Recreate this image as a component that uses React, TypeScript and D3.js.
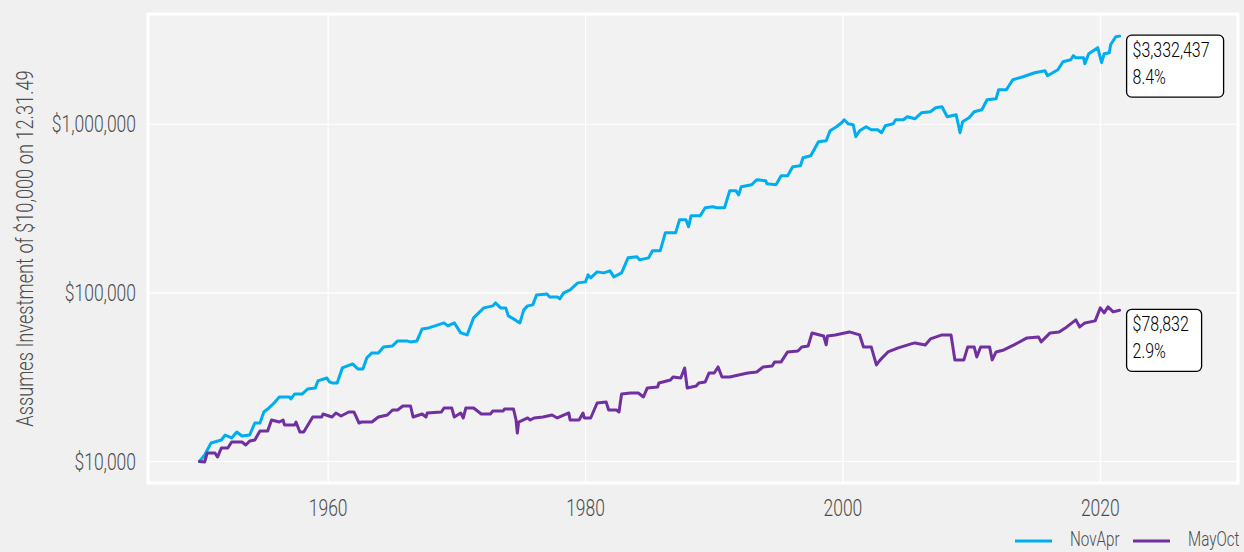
import React from 'react';
import * as d3 from 'd3';

// [year, value of $10,000 invested 12.31.49]
const novApr: [number, number][] = [
  [1950.0, 10000], [1950.4, 10930], [1950.9, 12880], [1951.7, 13420], [1952.0, 14360], [1952.5, 13790],
  [1952.9, 14970], [1953.3, 14170], [1953.9, 14360], [1954.3, 16920], [1954.7, 16920], [1955.0, 19670],
  [1955.4, 20780], [1955.8, 22240], [1956.2, 24150], [1957.0, 24150], [1957.1, 23490], [1957.4, 25160],
  [1958.0, 25160], [1958.4, 26930], [1959.0, 27310], [1959.2, 30050], [1959.9, 31300], [1960.1, 29640],
  [1960.3, 29240], [1960.7, 29240], [1961.1, 35890], [1961.5, 36880], [1961.9, 37910], [1962.3, 35400],
  [1962.7, 35400], [1963.0, 41140], [1963.4, 44060], [1963.9, 44060], [1964.3, 47820], [1965.0, 48480],
  [1965.4, 51910], [1966.1, 51910], [1966.4, 51200], [1966.9, 51910], [1967.3, 61130], [1967.8, 61970],
  [1968.3, 63710], [1969.0, 66370], [1969.3, 63710], [1969.8, 66370], [1970.3, 57880], [1970.8, 56330],
  [1971.3, 71110], [1972.1, 81470], [1972.8, 83730], [1973.0, 87230], [1973.4, 81470], [1973.8, 81470],
  [1974.0, 73080], [1974.4, 70140], [1974.9, 66370], [1975.2, 79270], [1975.5, 83730], [1975.9, 84880],
  [1976.2, 97320], [1977.0, 98650], [1977.2, 94690], [1977.8, 94690], [1978.0, 92130], [1978.3, 100000],
  [1978.8, 104180], [1979.4, 114660], [1980.0, 116230], [1980.2, 127900], [1980.4, 122770], [1980.9, 133250],
  [1981.4, 131460], [1981.9, 135110], [1982.2, 124450], [1982.8, 131460], [1983.3, 161360], [1984.0, 163580],
  [1984.2, 157020], [1984.9, 161360], [1985.2, 177580], [1985.8, 177580], [1986.2, 227100], [1987.0, 227100],
  [1987.3, 271300], [1987.8, 271300], [1988.0, 246500], [1988.2, 286400], [1988.9, 286400], [1989.3, 319600],
  [1989.9, 323900], [1990.2, 319600], [1990.8, 319600], [1991.2, 403000], [1991.7, 403000], [1991.9, 381600],
  [1992.1, 425800], [1992.9, 437500], [1993.3, 468500], [1994.0, 462100], [1994.1, 443600], [1994.8, 437500],
  [1995.2, 494800], [1995.7, 494800], [1996.1, 559800], [1996.7, 567400], [1996.9, 632900], [1997.5, 650500],
  [1998.1, 787600], [1998.7, 798500], [1999.0, 915200], [1999.5, 966700], [1999.9, 1021000], [2000.1, 1064000],
  [2000.4, 1007000], [2000.8, 993400], [2001.0, 843300], [2001.3, 915200], [2001.8, 966700], [2002.2, 927900],
  [2002.7, 927900], [2003.0, 890600], [2003.3, 980000], [2003.9, 1007000], [2004.1, 1064000], [2004.7, 1064000],
  [2005.0, 1108000], [2005.6, 1078500], [2006.1, 1170000], [2006.8, 1187000], [2007.2, 1253000], [2007.7, 1270000],
  [2008.1, 1108000], [2008.8, 1139000], [2009.1, 890600], [2009.3, 1035000], [2009.8, 1093000], [2010.2, 1187000],
  [2010.8, 1219000], [2011.2, 1398000], [2011.9, 1417000], [2012.1, 1602000], [2012.7, 1602000], [2013.2, 1838000],
  [2014.0, 1914000], [2014.9, 2022000], [2015.7, 2078000], [2015.9, 1941000], [2016.7, 2107000], [2017.1, 2350000],
  [2017.7, 2415000], [2017.9, 2551000], [2018.1, 2482000], [2018.7, 2482000], [2018.8, 2287000], [2019.1, 2621000],
  [2019.8, 2846000], [2020.1, 2318000], [2020.3, 2621000], [2020.7, 2657000], [2020.8, 2964000], [2021.2, 3307000],
  [2021.5, 3332437],
];

const mayOct: [number, number][] = [
  [1950.0, 10000], [1950.4, 9930], [1950.6, 11230], [1951.2, 11230], [1951.4, 10630], [1951.7, 12030],
  [1952.2, 12030], [1952.5, 13050], [1953.3, 13050], [1953.6, 12530], [1953.9, 13230], [1954.3, 13420],
  [1954.7, 15170], [1955.3, 15170], [1955.6, 17630], [1956.2, 17150], [1956.5, 17630], [1956.6, 16470],
  [1957.4, 16470], [1957.5, 17150], [1957.8, 14970], [1958.1, 14970], [1958.8, 18370], [1959.5, 18370],
  [1959.6, 19140], [1960.3, 18370], [1960.6, 19400], [1961.0, 18620], [1961.6, 19670], [1962.0, 19670],
  [1962.4, 16920], [1962.6, 17150], [1963.4, 17150], [1963.9, 18370], [1964.6, 18880], [1965.0, 20210],
  [1965.4, 20210], [1965.8, 21350], [1966.4, 21350], [1966.6, 18370], [1967.3, 19140], [1967.6, 18370],
  [1967.7, 19400], [1968.8, 19670], [1969.0, 20780], [1969.6, 20780], [1969.8, 18370], [1970.3, 19400],
  [1970.5, 18120], [1970.7, 20780], [1971.3, 20780], [1971.9, 19140], [1972.6, 19140], [1972.8, 19940],
  [1973.6, 19940], [1973.7, 20490], [1974.4, 20490], [1974.6, 17630], [1974.7, 14760], [1974.8, 17150],
  [1975.5, 18120], [1975.7, 17630], [1976.0, 18120], [1976.7, 18370], [1977.4, 18880], [1977.8, 18120],
  [1978.7, 19400], [1978.8, 17630], [1979.5, 17630], [1979.8, 19400], [1979.9, 18120], [1980.4, 18120],
  [1980.9, 22240], [1981.6, 22550], [1981.8, 20210], [1982.4, 20210], [1982.6, 19670], [1982.8, 25160],
  [1983.5, 25500], [1984.1, 25500], [1984.5, 24150], [1984.8, 27310], [1985.6, 27680], [1985.7, 29240],
  [1986.6, 30460], [1986.8, 31730], [1987.4, 31300], [1987.7, 35890], [1987.9, 27310], [1988.6, 28060],
  [1988.8, 29240], [1989.3, 29640], [1989.6, 33510], [1990.0, 33510], [1990.3, 36380], [1990.6, 31730],
  [1991.2, 31730], [1992.6, 33510], [1993.3, 33970], [1993.8, 36380], [1994.5, 36880], [1994.7, 38960],
  [1995.2, 38960], [1995.7, 44660], [1996.5, 45270], [1996.8, 47820], [1997.3, 48480], [1997.6, 57880],
  [1998.5, 55560], [1998.7, 49150], [1998.8, 55560], [1999.4, 56330], [2000.5, 58680], [2001.3, 56330],
  [2001.6, 47820], [2002.2, 47820], [2002.6, 37390], [2002.9, 40050], [2003.5, 44660], [2004.3, 47170],
  [2005.3, 49830], [2005.6, 50510], [2006.4, 49150], [2006.8, 53330], [2007.7, 56330], [2008.4, 56330],
  [2008.7, 40050], [2009.4, 40050], [2009.7, 47820], [2010.2, 47820], [2010.4, 41710], [2010.7, 47820],
  [2011.4, 47820], [2011.6, 40050], [2011.9, 44660], [2012.5, 45890], [2013.3, 49150], [2014.3, 54080],
  [2015.2, 54820], [2015.4, 51200], [2016.1, 57880], [2016.8, 58680], [2017.4, 62830], [2018.1, 69170],
  [2018.4, 62830], [2018.8, 66370], [2019.6, 68230], [2020.0, 81470], [2020.3, 76090], [2020.6, 82590],
  [2021.0, 77140], [2021.5, 78832],
];

const seriesNames = ['NovApr', 'MayOct'];
const seriesColors = ['#00aeef', '#7030a0'];
const endLabels = [['$3,332,437', '8.4%'], ['$78,832', '2.9%']];
const yTicks = [10000, 100000, 1000000];
const xTicks = [1960, 1980, 2000, 2020];
const yTitle = 'Assumes Investment of $10,000 on 12.31.49';

const W = 1244;
const H = 552;
const SX = 0.76; // horizontal squeeze to imitate a condensed face

function CText({ x, y, size, fill = '#4d4d4d', anchor = 'start', rotate = 0, children }: any) {
  return (
    <g transform={`translate(${x},${y}) rotate(${rotate})`}>
      <text transform={`scale(${SX},1)`} fontSize={size} fill={fill} textAnchor={anchor}
        fontFamily="Roboto, 'DejaVu Sans', sans-serif" fontWeight={300}>
        {children}
      </text>
    </g>
  );
}

export default function App() {
  const left = 148, right = 1238, top = 14, bottom = 483;
  const x = d3.scaleLinear().domain([1946.0, 2030.7]).range([left, right]);
  const y = d3.scaleLog().domain([7457, 4508000]).range([bottom, top]);
  const line = d3.line<[number, number]>().x(d => x(d[0])).y(d => y(d[1]));
  const series = [novApr, mayOct];
  const fmt = d3.format('$,');
  const boxW = [97, 75];

  return (
    <svg width={W} height={H} style={{ position: 'absolute', left: 0, top: 0, background: '#f0f0f0' }}>
      <rect x={left} y={top} width={right - left} height={bottom - top} fill="#f2f2f2" />
      {xTicks.map(t => (
        <line key={t} x1={x(t)} x2={x(t)} y1={top} y2={bottom} stroke="#fff" strokeWidth={1.2} />
      ))}
      {yTicks.map(t => (
        <line key={t} x1={left} x2={right} y1={y(t)} y2={y(t)} stroke="#fff" strokeWidth={1.2} />
      ))}
      <rect x={left} y={top} width={right - left} height={bottom - top} fill="none" stroke="#fff" strokeWidth={3} />

      {series.map((s, i) => (
        <path key={i} d={line(s) || ''} fill="none" stroke={seriesColors[i]} strokeWidth={3}
          strokeLinejoin="round" strokeLinecap="round" />
      ))}

      {series.map((s, i) => {
        const last = s[s.length - 1];
        const bx = x(last[0]) + 7;
        const by = y(last[1]) - 1;
        return (
          <g key={i}>
            <rect x={bx} y={by} width={boxW[i]} height={62} rx={5} fill="#fff" stroke="#000" strokeWidth={1.3} />
            <CText x={bx + 6} y={by + 21.5} size={21} fill="#000">{endLabels[i][0]}</CText>
            <CText x={bx + 6} y={by + 48.5} size={21} fill="#000">{endLabels[i][1]}</CText>
          </g>
        );
      })}

      {yTicks.map(t => (
        <CText key={t} x={136} y={y(t) + 8} size={23} anchor="end">{fmt(t)}</CText>
      ))}
      {xTicks.map(t => (
        <CText key={t} x={x(t)} y={516} size={23} anchor="middle">{t}</CText>
      ))}
      <CText x={33} y={(top + bottom) / 2} size={24} anchor="middle" rotate={-90}>{yTitle}</CText>

      {seriesNames.map((n, i) => {
        const lx = 1015 + i * 118;
        return (
          <g key={n}>
            <line x1={lx} x2={lx + 37} y1={541} y2={541} stroke={seriesColors[i]} strokeWidth={3} />
            <CText x={lx + 55} y={546} size={20}>{n}</CText>
          </g>
        );
      })}
    </svg>
  );
}
